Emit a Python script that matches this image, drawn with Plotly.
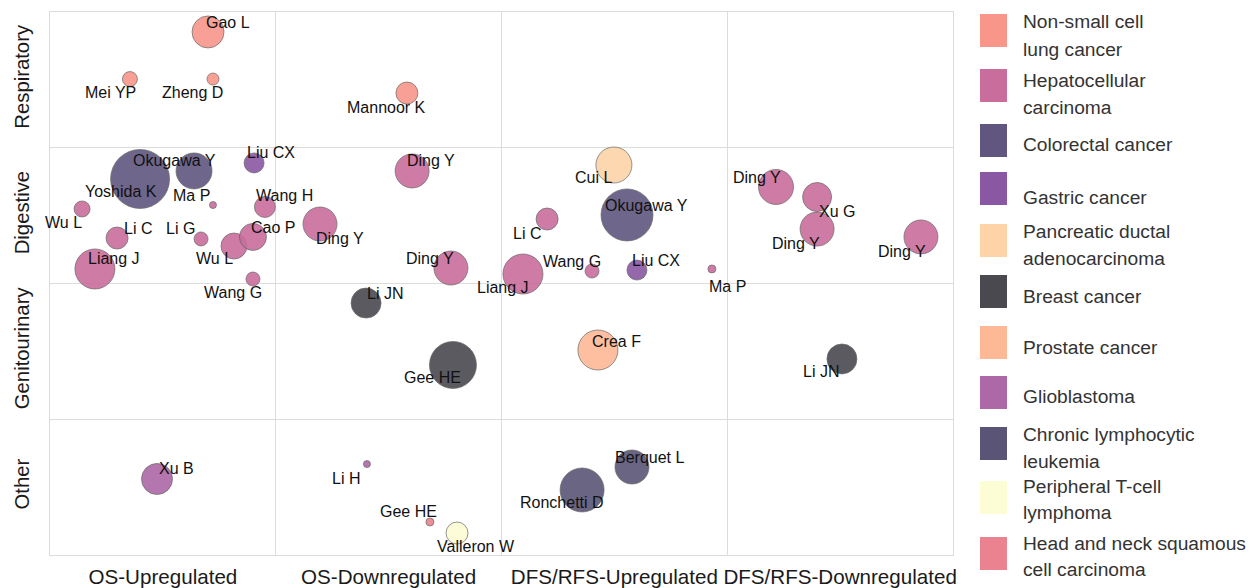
import plotly.graph_objects as go

# ---------------- data ----------------
outcomes = ["OS-Upregulated", "OS-Downregulated", "DFS/RFS-Upregulated", "DFS/RFS-Downregulated"]
systems = ["Respiratory", "Digestive", "Genitourinary", "Other"]

cancer_types = ["Non-small cell lung cancer", "Hepatocellular carcinoma", "Colorectal cancer",
                "Gastric cancer", "Pancreatic ductal adenocarcinoma", "Breast cancer",
                "Prostate cancer", "Glioblastoma", "Chronic lymphocytic leukemia",
                "Peripheral T-cell lymphoma", "Head and neck squamous cell carcinoma"]
legend_labels = ["Non-small cell<br>lung cancer", "Hepatocellular<br>carcinoma", "Colorectal cancer",
                 "Gastric cancer", "Pancreatic ductal<br>adenocarcinoma", "Breast cancer",
                 "Prostate cancer", "Glioblastoma", "Chronic lymphocytic<br>leukemia",
                 "Peripheral T-cell<br>lymphoma", "Head and neck squamous<br>cell carcinoma"]

authors = ["Gao L", "Mei YP", "Zheng D", "Mannoor K",
           "Yoshida K", "Okugawa Y", "Liu CX", "Ma P", "Wang H", "Wu L", "Li C", "Li G", "Wu L",
           "Cao P", "Liang J", "Wang G", "Ding Y", "Ding Y", "Ding Y", "Liang J", "Li C", "Cui L",
           "Okugawa Y", "Wang G", "Liu CX", "Ma P", "Ding Y", "Xu G", "Ding Y", "Ding Y",
           "Li JN", "Gee HE", "Crea F", "Li JN",
           "Xu B", "Li H", "Gee HE", "Valleron W", "Berquet L", "Ronchetti D"]
cancer_idx = [0, 0, 0, 0,
              2, 2, 3, 1, 1, 1, 1, 1, 1,
              1, 1, 1, 1, 1, 1, 1, 1, 4,
              2, 1, 3, 1, 1, 1, 1, 1,
              5, 5, 6, 5,
              7, 7, 10, 9, 8, 8]
outcome_idx = [0, 0, 0, 1,
               0, 0, 0, 0, 0, 0, 0, 0, 0,
               0, 0, 0, 1, 1, 1, 2, 2, 2,
               2, 2, 2, 2, 3, 3, 3, 3,
               1, 1, 2, 3,
               0, 1, 1, 1, 2, 2]
system_idx = [0, 0, 0, 0,
              1, 1, 1, 1, 1, 1, 1, 1, 1,
              1, 1, 1, 1, 1, 1, 1, 1, 1,
              1, 1, 1, 1, 1, 1, 1, 1,
              2, 2, 2, 2,
              3, 3, 3, 3, 3, 3]
# position of each study inside its cell (0..1)
jitter_x = [0.700, 0.354, 0.722, 0.581,
            0.399, 0.638, 0.904, 0.722, 0.952, 0.142, 0.297, 0.669, 0.815,
            0.899, 0.199, 0.899, 0.196, 0.604, 0.776, 0.095, 0.202, 0.498,
            0.556, 0.401, 0.600, 0.932, 0.216, 0.398, 0.398, 0.858,
            0.400, 0.785, 0.427, 0.508,
            0.474, 0.404, 0.683, 0.803, 0.578, 0.357]
jitter_y = [0.147, 0.494, 0.494, 0.597,
            0.230, 0.171, 0.112, 0.422, 0.436, 0.451, 0.665, 0.672, 0.724,
            0.657, 0.893, 0.967, 0.562, 0.171, 0.886, 0.930, 0.525, 0.127,
            0.495, 0.908, 0.901, 0.893, 0.289, 0.363, 0.599, 0.657,
            0.144, 0.600, 0.490, 0.556,
            0.440, 0.330, 0.757, 0.838, 0.352, 0.521]
study_weight = [32, 15, 12, 22,
                59, 36, 20, 7, 21, 16, 22, 14, 26,
                27, 40, 14, 34, 34, 34, 40, 22, 36,
                52, 14, 20, 8, 35, 29, 34, 34,
                30, 47, 40, 30,
                31, 7, 8, 22, 34, 44]

# label offsets (pixels) relative to bubble centre
label_dx = [20, -19, -20, -20,
            -19, -20, 17, -21, 20, -19, 21, -21, -19,
            20, 19, -20, 20, 19, -21, -20, -20, -20,
            19, -20, 19, 16, -19, 20, -21, -19,
            19, -20, 19, -21,
            19, -21, -21, 19, 18, -20]
label_dy = [-9, 13, 13, 14,
            13, -10, -10, -10, -11, 14, -10, -10, 12,
            -9, -10, 13, 14, -10, -10, 13, 14, 13,
            -9, -10, -10, 18, -9, 14, 14, 15,
            -10, 13, -9, 13,
            -10, 14, -11, 13, -10, 13]

colors = ["#F8968A", "#C96E9C", "#605680", "#8A57A2", "#FDD3A7", "#4A494F",
          "#FDB996", "#AD68A8", "#5A5576", "#FCFDD4", "#EA838F"]

# legend layout (pixel rows of swatches and text lines)
legend_sq_top = [14, 69, 124, 172, 224, 275, 326, 376, 427, 481, 537]
legend_sq_h = 33
legend_text_y = [[22, 49], [80, 107], [144], [197], [232, 258], [296], [347], [396],
                 [434, 461], [486, 512], [543, 569]]

# ---------------- figure ----------------
FONT = "Liberation Sans, Arial, sans-serif"
xs = [o + j for o, j in zip(outcome_idx, jitter_x)]
ys = [s + j for s, j in zip(system_idx, jitter_y)]

fig = go.Figure()
for ci, ct in enumerate(cancer_types):
    idx = [i for i, c in enumerate(cancer_idx) if c == ci]
    if not idx:
        continue
    fig.add_trace(go.Scatter(
        x=[xs[i] for i in idx], y=[ys[i] for i in idx], mode="markers", name=ct,
        text=[authors[i] for i in idx],
        marker=dict(size=[study_weight[i] for i in idx], sizemode="diameter",
                    color=colors[ci], opacity=0.9,
                    line=dict(color="#5a5a5a", width=0.7)),
        hovertemplate="%{text}<extra>" + ct + "</extra>", showlegend=False))

for i, a in enumerate(authors):
    fig.add_annotation(x=xs[i], y=ys[i], text=a, showarrow=False,
                       xshift=label_dx[i], yshift=-label_dy[i],
                       font=dict(family=FONT, size=16, color="#111111"))

# manual legend (square swatches)
L, T, W, H = 50, 12, 903, 543
def py(p):
    return (T + H - p) / H
for i, (lab, col) in enumerate(zip(legend_labels, colors)):
    top = legend_sq_top[i]
    fig.add_shape(type="rect", xref="paper", yref="paper",
                  x0=(980 - L) / W, x1=(1007 - L) / W,
                  y0=py(top + legend_sq_h), y1=py(top),
                  fillcolor=col, line=dict(width=0))
    for line, ly in zip(lab.split("<br>"), legend_text_y[i]):
        fig.add_annotation(xref="paper", yref="paper", x=(1021 - L) / W,
                           y=py(ly), xanchor="left", yanchor="middle",
                           align="left", text=line, showarrow=False,
                           font=dict(family=FONT, size=19.2, color="#333333"))

grid = "#DCDCDC"
fig.update_xaxes(range=[0, 4], tickvals=[0.5, 1.5, 2.5, 3.5], ticktext=outcomes,
                 showgrid=False, zeroline=False, ticks="", ticklabelstandoff=3,
                 tickfont=dict(family=FONT, size=20.6, color="#1a1a1a"),
                 minor=dict(tickvals=[0, 1, 2, 3, 4], showgrid=True, gridcolor=grid, gridwidth=1),
                 showline=True, linecolor=grid, mirror=True, automargin=False)
fig.update_yaxes(range=[4, 0], tickvals=[0.5, 1.5, 2.5, 3.5], ticktext=systems,
                 tickangle=-90, showgrid=False, zeroline=False, ticks="", ticklabelstandoff=12,
                 tickfont=dict(family=FONT, size=20.3, color="#1a1a1a"),
                 minor=dict(tickvals=[0, 1, 2, 3, 4], showgrid=True, gridcolor=grid, gridwidth=1),
                 showline=True, linecolor=grid, mirror=True, automargin=False)
fig.update_layout(width=1250, height=588, margin=dict(l=50, r=297, t=12, b=33),
                  plot_bgcolor="white", paper_bgcolor="white", showlegend=False)

fig.write_html("out.html", config={"displayModeBar": False},
               post_script="document.body.style.margin='0';document.body.style.overflow='hidden';")
